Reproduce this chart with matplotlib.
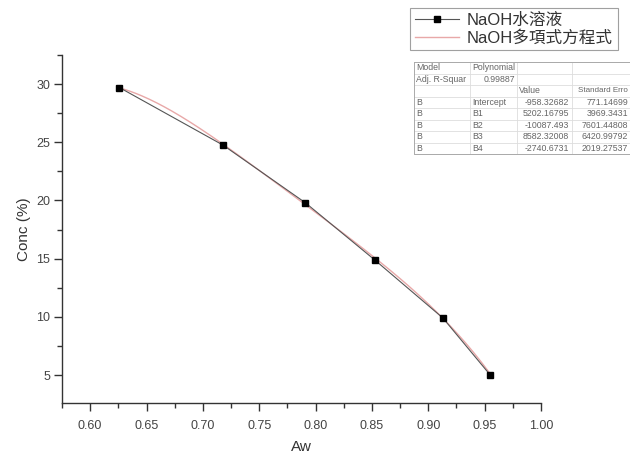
import numpy as np
import matplotlib
matplotlib.use("Agg")
import matplotlib.pyplot as plt
from matplotlib.lines import Line2D

# ---- data ----
aw = [0.626, 0.718, 0.791, 0.853, 0.913, 0.955]
conc = [29.7, 24.75, 19.8, 14.85, 9.9, 5.0]
# polynomial coefficients shown in the fit table (B0..B4)
coef = [-958.32682, 5202.16795, -10087.493, 8582.32008, -2740.6731]
x_ticks = [0.60, 0.65, 0.70, 0.75, 0.80, 0.85, 0.90, 0.95, 1.00]
y_ticks = [5, 10, 15, 20, 25, 30]
legend_labels = ["NaOH水溶液", "NaOH多項式方程式"]
table_rows = [
    ["Model", "Polynomial", "", ""],
    ["Adj. R-Squar", "0.99887", "", ""],
    ["", "", "Value", "Standard Erro"],
    ["B", "Intercept", "-958.32682", "771.14699"],
    ["B", "B1", "5202.16795", "3969.3431"],
    ["B", "B2", "-10087.493", "7601.44808"],
    ["B", "B3", "8582.32008", "6420.99792"],
    ["B", "B4", "-2740.6731", "2019.27537"],
]

plt.rcParams['font.family'] = ['Liberation Sans', 'Noto Sans CJK TC', 'DejaVu Sans']

W, H = 630, 457
fig = plt.figure(figsize=(W / 100, H / 100), dpi=100)
fig.patch.set_facecolor('white')

def fx(px):
    return px / W

def fy(py):
    return 1 - py / H

ax = fig.add_axes([fx(62), fy(403), (541 - 62) / W, (403 - 55) / H])
ax.set_xlim(0.575, 1.00)
ax.set_ylim(2.6, 32.5)

# fit curve from table coefficients
xf = np.linspace(aw[0], aw[-1], 200)
yf = np.polyval(coef[::-1], xf)
ax.plot(xf, yf, color='#e8a8a8', lw=1.0, zorder=2)
ax.plot(aw, conc, color='#555555', lw=0.8, marker='s', ms=5,
        mfc='black', mec='black', zorder=3)

for s in ['top', 'right']:
    ax.spines[s].set_visible(False)
for s in ['left', 'bottom']:
    ax.spines[s].set_color('#333333')
    ax.spines[s].set_linewidth(1.0)

ax.set_xticks(x_ticks)
ax.set_xticklabels([f"{v:.2f}" for v in x_ticks])
ax.set_yticks(y_ticks)
ax.set_xticks(np.arange(0.575, 1.001, 0.025), minor=True)
ax.set_yticks(np.arange(2.5, 32.6, 2.5)[1:], minor=True)
ax.tick_params(which='major', direction='out', length=6, width=1,
               color='#333333', labelsize=9, labelcolor='#444444')
ax.tick_params(axis='x', which='major', pad=6)
ax.tick_params(axis='y', which='major', pad=2.5)
ax.tick_params(which='minor', direction='out', length=3.5, width=1, color='#333333')

ax.set_xlabel("Aw", fontsize=11, color='#333333', labelpad=6)
ax.set_ylabel("Conc (%)", fontsize=11, color='#333333', labelpad=4)

# legend
handles = [
    Line2D([0], [0], color='#555555', lw=0.8, marker='s', ms=5, mfc='black', mec='black'),
    Line2D([0], [0], color='#e8a8a8', lw=1.0),
]
leg = fig.legend(handles, legend_labels, loc='upper right',
                 bbox_to_anchor=(fx(618), fy(8)), fontsize=12,
                 frameon=True, fancybox=False, edgecolor='#888888',
                 handlelength=2.6, handletextpad=0.5, borderpad=0.3,
                 labelspacing=0.1, borderaxespad=0)
leg.get_frame().set_linewidth(0.8)
for t in leg.get_texts():
    t.set_color('#333333')

# fit table
col_edges = [414, 470, 517, 572, 640]
top, row_h = 62, 11.5
nrows = len(table_rows)
bottom = top + nrows * row_h
for i in range(nrows + 1):
    yy = top + i * row_h
    fig.add_artist(Line2D([fx(414), fx(640)], [fy(yy), fy(yy)],
                          color='#dddddd', lw=0.6))
for xe in col_edges[1:-1]:
    fig.add_artist(Line2D([fx(xe), fx(xe)], [fy(top), fy(bottom)],
                          color='#dddddd', lw=0.6))
fig.add_artist(Line2D([fx(414), fx(640), fx(640), fx(414), fx(414)],
                      [fy(top), fy(top), fy(bottom), fy(bottom), fy(top)],
                      color='#aaaaaa', lw=0.7))
fs = 6.3
tc = '#666666'
for i, row in enumerate(table_rows):
    yc = top + (i + 0.5) * row_h
    for j, txt in enumerate(row):
        if not txt:
            continue
        size = fs
        if j == 0:
            x, ha = 416, 'left'
        elif j == 1:
            x, ha = (515, 'right') if i == 1 else (472, 'left')
        elif j == 2:
            x, ha = (519, 'left') if i == 2 else (569, 'right')
        else:
            if i == 2:
                x, ha, size = 628, 'right', 5.8
            else:
                x, ha = 628, 'right'
        fig.text(fx(x), fy(yc), txt, fontsize=size, color=tc, va='center', ha=ha)

fig.savefig("out.png", dpi=100, facecolor='white')
